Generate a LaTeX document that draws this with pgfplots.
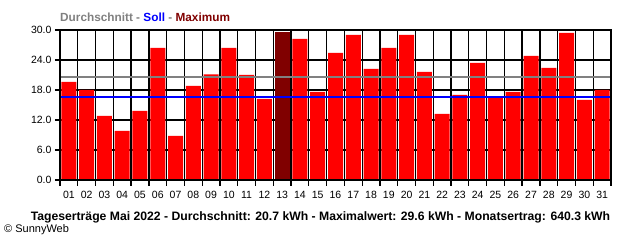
\documentclass[border=0pt]{standalone}
\usepackage{pgfplots}
\pgfplotsset{compat=1.18}
\usepackage{fontspec}
\setmainfont{Liberation Sans}
\definecolor{barred}{HTML}{FF0000}
\definecolor{maxred}{HTML}{800000}
\definecolor{avggray}{RGB}{128,128,128}
\definecolor{sollblue}{HTML}{0000FF}
\begin{document}
\begin{tikzpicture}[x=1pt,y=1pt]
\path[use as bounding box] (0,0) rectangle (640,240);
\begin{axis}[
  at={(60pt,60pt)}, anchor=south west,
  scale only axis, width=551pt, height=150pt,
  xmin=0.5, xmax=31.5, ymin=0, ymax=30,
  ytick={0,6,...,30},
  yticklabel style={/pgf/number format/fixed, /pgf/number format/fixed zerofill, /pgf/number format/precision=1, font=\fontsize{10.5}{12}\selectfont},
  /pgf/number format/assume math mode=true,
  xtick={1,...,31},
  xticklabels={01,02,03,04,05,06,07,08,09,10,11,12,13,14,15,16,17,18,19,20,21,22,23,24,25,26,27,28,29,30,31},
  xticklabel style={font=\fontsize{10.5}{12}\selectfont, yshift=-3pt},
  minor xtick={0.5,1.5,...,31.5},
  xminorgrids, ymajorgrids,
  major x tick style={draw=none},
  tick align=outside,
  major tick length=5pt, minor tick length=6pt,
  every tick/.style={black, line width=1.3pt},
  grid style={black, line width=1.3pt},
  minor grid style={black, line width=1.3pt},
  axis line style={black, line width=1.5pt},
  ytick pos=left, xtick pos=bottom,
  clip=false,
]
\addplot[ybar, bar width=15pt, bar shift=0pt, fill=barred, draw=none] coordinates {
(1,19.6) (2,18.0) (3,12.8) (4,9.8) (5,13.8) (6,26.4) (7,8.8) (8,18.8) (9,21.1) (10,26.4)
(11,21.0) (12,16.2) (14,28.2) (15,17.6) (16,25.4) (17,29.0) (18,22.2) (19,26.4) (20,29.0)
(21,21.6) (22,13.2) (23,17.0) (24,23.4) (25,16.7) (26,17.6) (27,24.8) (28,22.4) (29,29.4)
(30,16.0) (31,18.0)
};
\addplot[ybar, bar width=15pt, bar shift=0pt, fill=maxred, draw=none] coordinates {(13,29.6)};
\addplot[sharp plot, color=sollblue, line width=1.3pt, mark=none] coordinates {(0.5,16.6) (31.5,16.6)};
\addplot[sharp plot, color=avggray, line width=1.6pt, mark=none] coordinates {(0.5,20.6) (31.5,20.6)};
\draw[black, line width=1.5pt] (rel axis cs:0,0) rectangle (rel axis cs:1,1);
\end{axis}
\node[anchor=west, font=\bfseries\fontsize{11.8}{13}\selectfont, inner sep=0pt] at (60,223)
  {\textcolor{avggray}{Durchschnitt -} \textcolor{sollblue}{Soll} \textcolor{avggray}{-} \textcolor{maxred}{Maximum}};
\node[font=\bfseries\fontsize{12.2}{14}\selectfont, inner sep=0pt] at (320.5,23)
  {Tageserträge Mai 2022 - Durchschnitt: 20.7 kWh - Maximalwert: 29.6 kWh - Monatsertrag: 640.3 kWh};
\node[anchor=west, font=\fontsize{11}{12}\selectfont, inner sep=0pt] at (4,10)
  {\textcopyright\ SunnyWeb};
\end{tikzpicture}
\end{document}
